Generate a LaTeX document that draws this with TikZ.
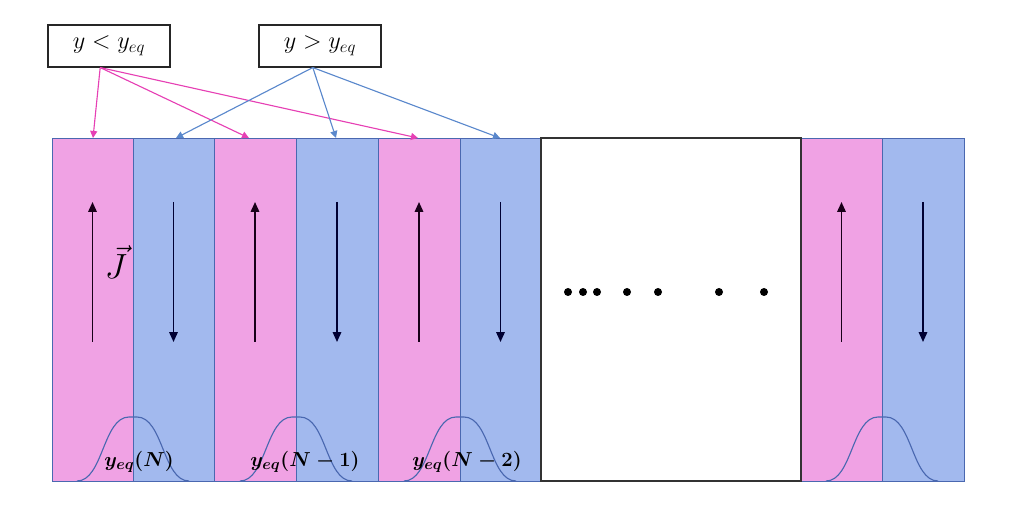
\documentclass[tikz,border=0pt]{standalone}
\usepackage{tikz}
\usetikzlibrary{arrows.meta, calc, positioning}
\usepackage{xcolor}

\definecolor{pinkfill}{HTML}{F0A2E4}
\definecolor{bluefill}{HTML}{A2B9EE}
\definecolor{stripline}{HTML}{4A68B0}
\definecolor{pinkline}{HTML}{E640B4}
\definecolor{blueline}{HTML}{5A88CC}

\tikzset{
  condbox/.style={draw=black!85, line width=0.8pt, fill=white, minimum width=3.05cm, minimum height=1.05cm, font=\fontsize{18}{21}\selectfont},
  pinkstrip/.style={fill=pinkfill, draw=stripline, line width=0.6pt},
  bluestrip/.style={fill=bluefill, draw=stripline, line width=0.6pt},
  flow/.style={line width=1.2pt, -{Triangle[length=7pt, width=6pt]}},
  pinkarrow/.style={pinkline, line width=0.8pt, -{Triangle[length=5pt, width=5pt]}},
  bluearrow/.style={blueline, line width=0.8pt, -{Triangle[length=5pt, width=5pt]}},
  bell/.style={stripline, line width=0.8pt},
  eqlabel/.style={font=\fontsize{15}{17}\selectfont\boldmath}
}

\begin{document}
\begin{tikzpicture}[x=0.025cm, y=-0.025cm]
  \useasboundingbox (0,0) rectangle (1024,523);

  % strips: pink | blue pairs
  \foreach \xl/\xm/\xr/\n in {52/133/214/1, 214/296/378/2, 378/460/541/3, 801/882/964/4} {
    \filldraw[pinkstrip] (\xl,138) rectangle (\xm,481);
    \filldraw[bluestrip] (\xm,138) rectangle (\xr,481);
    % current arrows
    \draw[flow, black!80!violet] ({(\xl+\xm)/2},342) -- ({(\xl+\xm)/2},202);
    \draw[flow, black!80!blue] ({(\xm+\xr)/2},202) -- ({(\xm+\xr)/2},342);
    % equilibrium profile
    \draw[bell] (\xm-56,481) .. controls (\xm-30,481) and (\xm-30,417) .. (\xm-4,417)
      -- (\xm+4,417) .. controls (\xm+30,417) and (\xm+30,481) .. (\xm+56,481);
  }

  % empty middle block
  \draw[black!80, line width=0.8pt] (541,138) rectangle (801,481);
  \foreach \x in {568,583,597,627,658,719,764} {
    \fill (\x,292) circle (4);
  }

  % labels
  \node[inner sep=0pt] (jvec) at (116,262) {\fontsize{28}{32}\selectfont $\vec{J}$};
  \node[eqlabel] (eqa) at (139,462) {$y_{eq}(N)$};
  \node[eqlabel] (eqb) at (305,462) {$y_{eq}(N-1)$};
  \node[eqlabel] (eqc) at (467,462) {$y_{eq}(N-2)$};

  % condition boxes
  \node[condbox] (lt) at (109,46) {$y<y_{eq}$};
  \node[condbox] (gt) at (320,46) {$y>y_{eq}$};

  % strip tops
  \coordinate (pa) at (93,138);
  \coordinate (pb) at (249,138);
  \coordinate (pc) at (418,138);
  \coordinate (ba) at (176,138);
  \coordinate (bb) at (336,138);
  \coordinate (bc) at (500,138);

  \draw[pinkarrow] ([xshift=-0.22cm]lt.south) -- (pa);
  \draw[pinkarrow] ([xshift=-0.22cm]lt.south) -- (pb);
  \draw[pinkarrow] ([xshift=-0.22cm]lt.south) -- (pc);
  \draw[bluearrow] ([xshift=-0.18cm]gt.south) -- (ba);
  \draw[bluearrow] ([xshift=-0.18cm]gt.south) -- (bb);
  \draw[bluearrow] ([xshift=-0.18cm]gt.south) -- (bc);
\end{tikzpicture}
\end{document}
